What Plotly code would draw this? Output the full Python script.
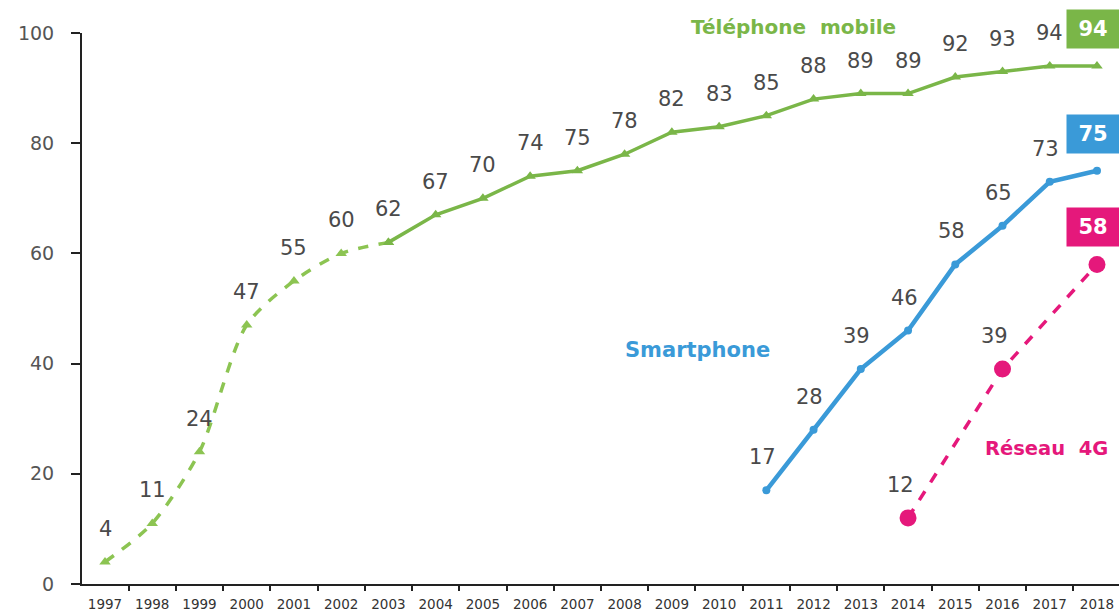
import plotly.graph_objects as go

years = list(range(1997, 2019))
mobile = [4, 11, 24, 47, 55, 60, 62, 67, 70, 74, 75, 78, 82, 83, 85, 88, 89, 89, 92, 93, 94, 94]
smart_years = [2011, 2012, 2013, 2014, 2015, 2016, 2017, 2018]
smart = [17, 28, 39, 46, 58, 65, 73, 75]
g4_years = [2014, 2016, 2018]
g4 = [12, 39, 58]
y_ticks = [0, 20, 40, 60, 80, 100]

GREEN = "#7ab648"
GREEN_L = "#8cc452"
BLUE = "#3a9ad8"
PINK = "#e5187b"
LABEL = "#4a4a4a"
FONT = "DejaVu Sans"

split = years.index(2003)

fig = go.Figure()
fig.add_trace(go.Scatter(
    x=years[:split + 1], y=mobile[:split + 1], mode="lines+markers",
    line=dict(color=GREEN_L, width=3.5, dash="dash", shape="spline", smoothing=0.8),
    marker=dict(symbol="triangle-up", size=10, color=GREEN_L),
    cliponaxis=False, hoverinfo="skip"))
fig.add_trace(go.Scatter(
    x=years[split:], y=mobile[split:], mode="lines+markers",
    line=dict(color=GREEN, width=3.5),
    marker=dict(symbol="triangle-up", size=10, color=GREEN),
    cliponaxis=False, hoverinfo="skip"))
fig.add_trace(go.Scatter(
    x=smart_years, y=smart, mode="lines+markers",
    line=dict(color=BLUE, width=4.5),
    marker=dict(symbol="circle", size=8, color=BLUE),
    cliponaxis=False, hoverinfo="skip"))
fig.add_trace(go.Scatter(
    x=g4_years, y=g4, mode="lines+markers",
    line=dict(color=PINK, width=3.5, dash="dash"),
    marker=dict(symbol="circle", size=17, color=PINK),
    cliponaxis=False, hoverinfo="skip"))

annotations = []


def value_labels(xs, ys, color_box, xshift=0):
    for i, (xv, yv) in enumerate(zip(xs, ys)):
        if i == len(xs) - 1:
            annotations.append(dict(
                x=xv, y=yv, xref="x", yref="y", text="<b>%d</b>" % yv,
                showarrow=False, yshift=37, xshift=-4,
                font=dict(family=FONT, size=21, color="white"),
                bgcolor=color_box, width=44, height=30, borderpad=4))
        else:
            annotations.append(dict(
                x=xv, y=yv, xref="x", yref="y", text=str(yv),
                showarrow=False, yshift=33, xshift=xshift,
                font=dict(family=FONT, size=21, color=LABEL)))


value_labels(years, mobile, GREEN)
value_labels(smart_years, smart, BLUE, xshift=-4)
value_labels(g4_years, g4, PINK, xshift=-8)

# series names, placed by pixel position (centre)
names = [
    (793, 27, "<b>Téléphone  mobile</b>", GREEN, 20),
    (697, 350, "<b>Smartphone</b>", BLUE, 21),
    (1046, 448, "<b>Réseau  4G</b>", PINK, 19.5),
]

W, H = 1119, 613
PL, PT, PB = 82, 33, 584  # plot left/top/bottom in pixels
for px, py, txt, col, sz in names:
    annotations.append(dict(
        x=(px - PL) / (W - PL), y=1 - (py - PT) / (PB - PT),
        xref="paper", yref="paper", xanchor="center", yanchor="middle",
        text=txt, showarrow=False,
        font=dict(family=FONT, size=sz, color=col)))

fig.update_layout(
    width=W, height=H,
    margin=dict(l=PL, r=0, t=PT, b=H - PB),
    paper_bgcolor="white", plot_bgcolor="white",
    showlegend=False,
    annotations=annotations,
    xaxis=dict(
        range=[1996.513, 2018.466], automargin=False,
        tickvals=years, ticktext=[str(y) for y in years],
        ticks="", showgrid=False, zeroline=False,
        showline=True, linecolor="#222", linewidth=2,
        tickfont=dict(family=FONT, size=13.5, color="#333"),
        ticklabelstandoff=7,
        minor=dict(tickvals=[y - 0.5 for y in years[1:]], ticks="outside",
                   ticklen=5, tickcolor="#222", tickwidth=1.5),
    ),
    yaxis=dict(
        range=[0, 100], tickvals=y_ticks, automargin=False,
        ticks="outside", ticklen=9, tickcolor="#222", tickwidth=1.5,
        showgrid=False, zeroline=False,
        showline=True, linecolor="#222", linewidth=2,
        tickfont=dict(family=FONT, size=19, color="#555"),
        ticklabelstandoff=13,
    ),
)

fig.write_html(
    "out.html",
    config={"displayModeBar": False},
    post_script="document.body.style.margin='0';document.body.style.overflow='hidden';",
)
